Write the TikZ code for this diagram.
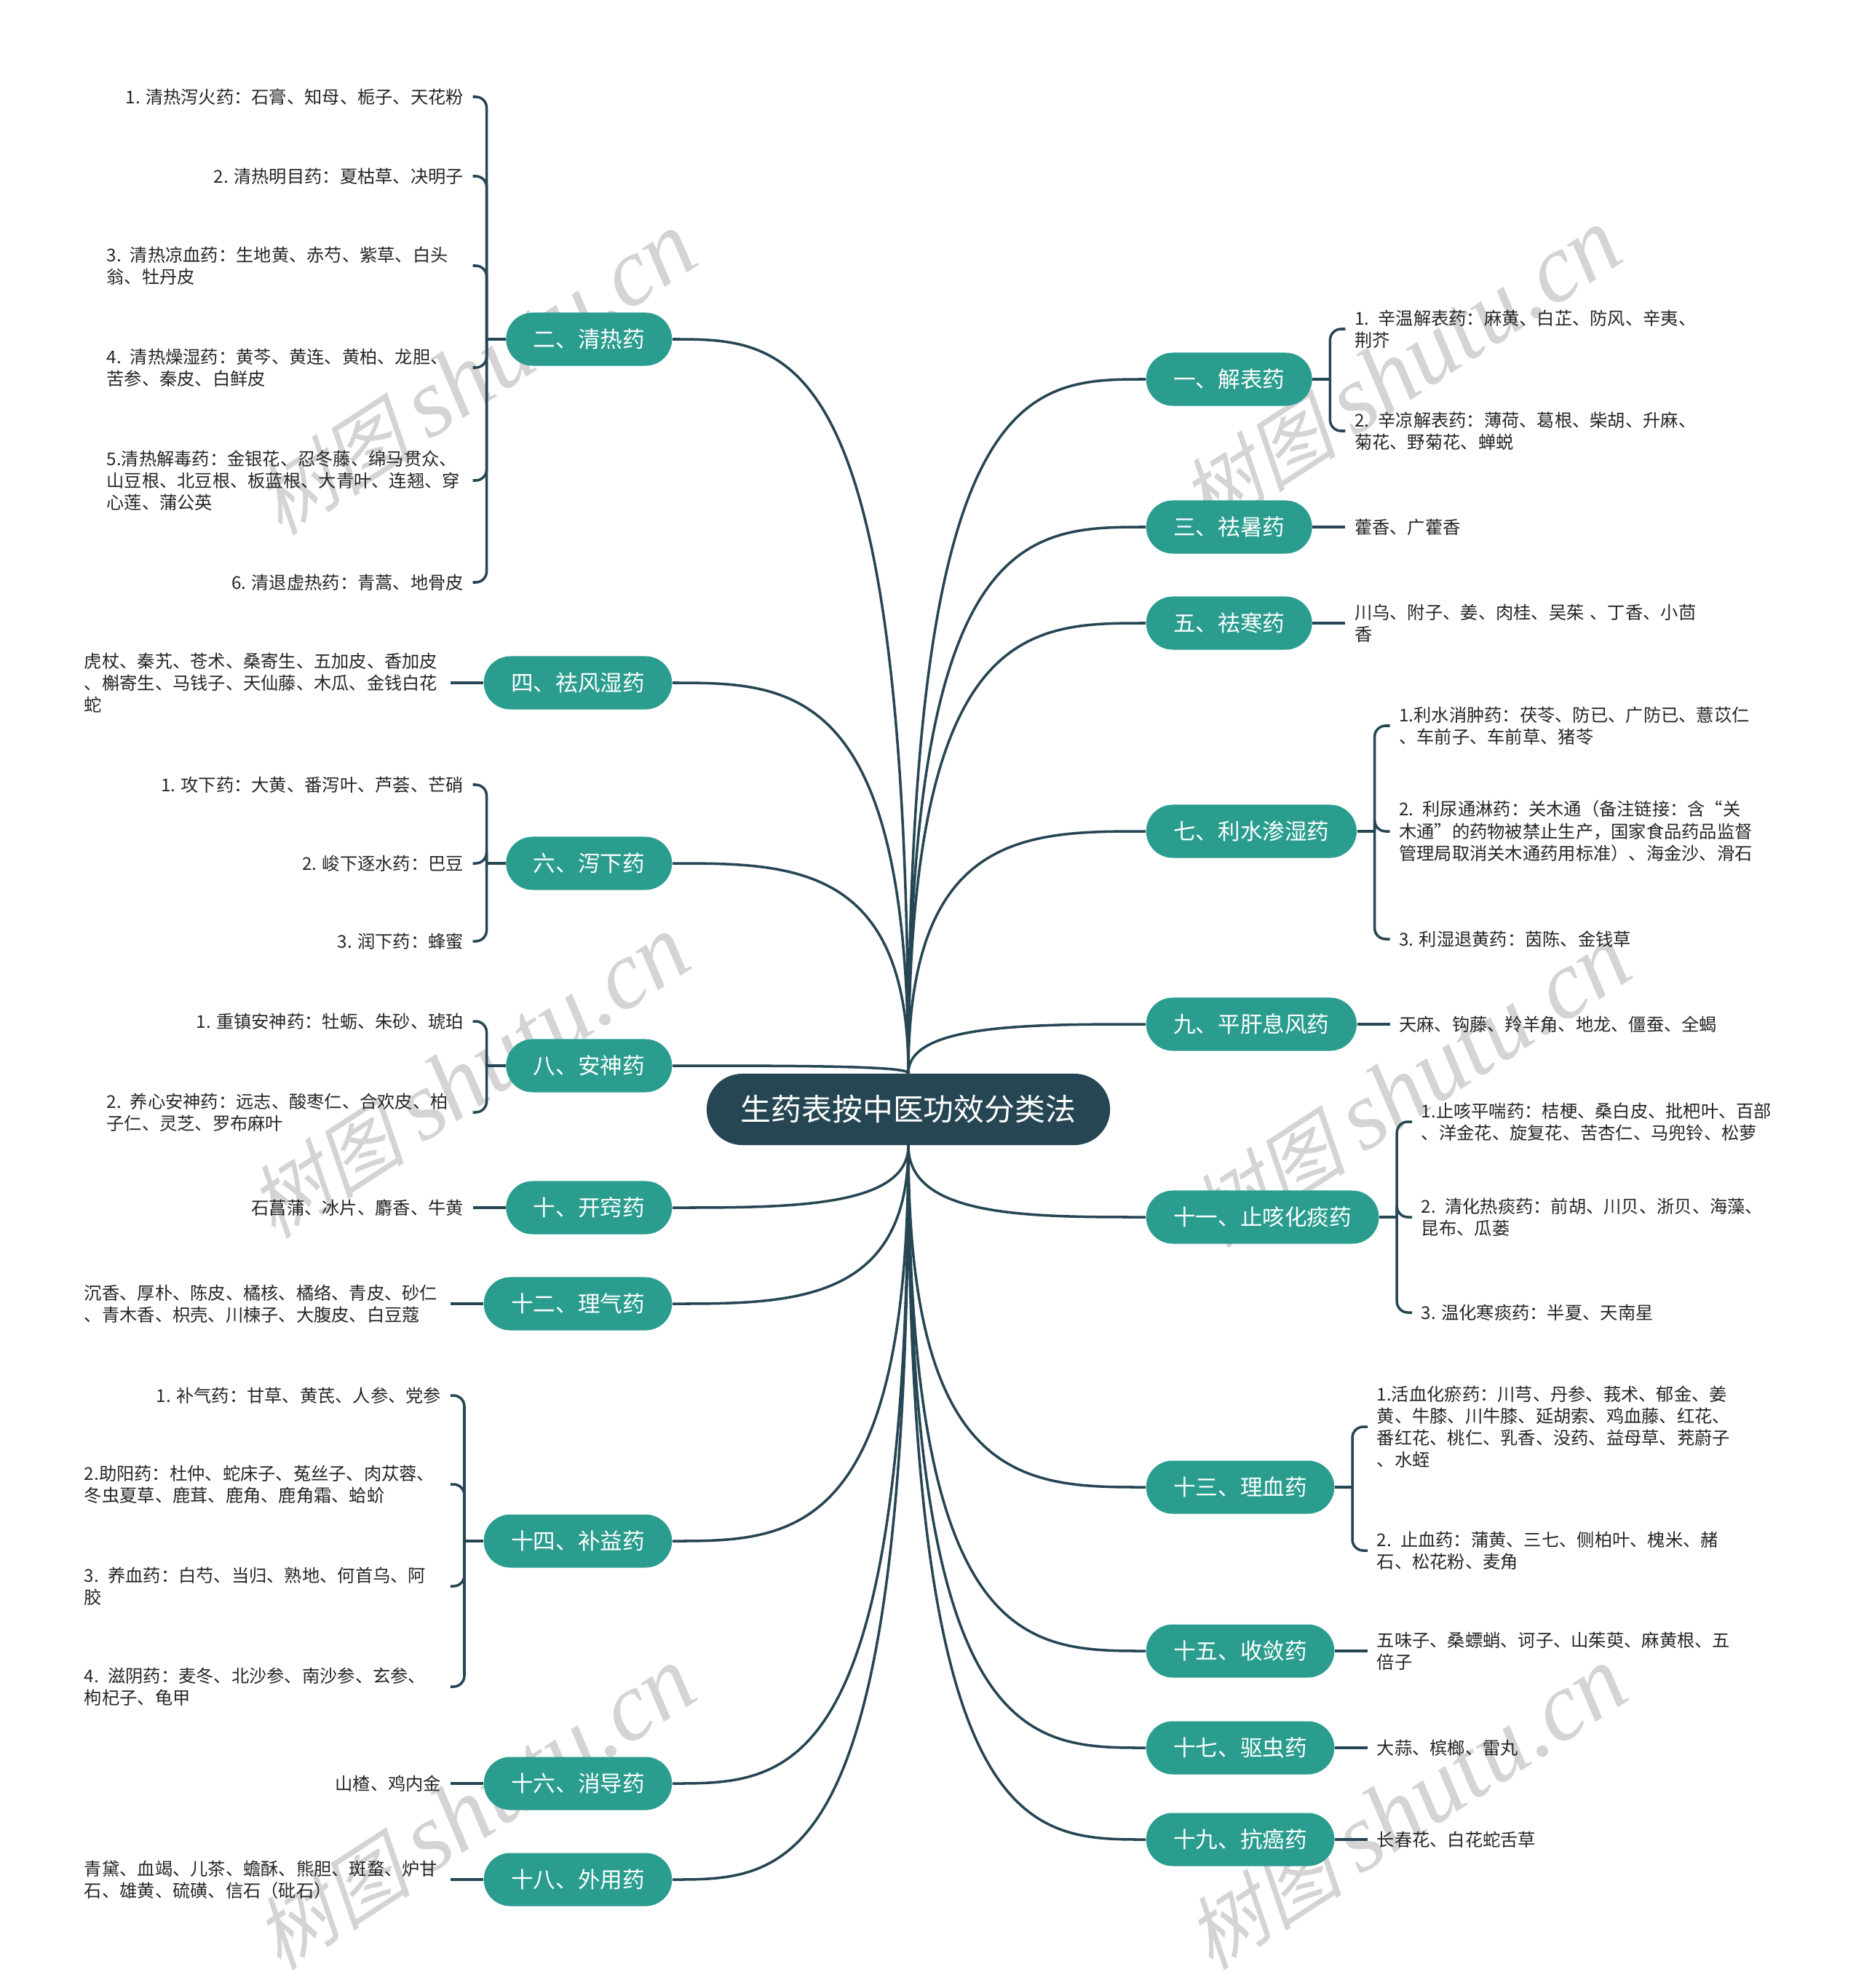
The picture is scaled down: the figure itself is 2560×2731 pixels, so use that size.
\documentclass[tikz,border=0pt]{standalone}
\usepackage{fontspec}
\setmainfont{Noto Sans CJK SC}
\newfontfamily\wmcjk[FakeSlant=0.25]{Noto Sans CJK SC}
\newfontfamily\wmlatin{Liberation Serif}
\usetikzlibrary{calc, positioning}

\begin{document}
\begin{tikzpicture}[x=0.01cm, y=-0.01cm,
    root/.style={fill=rootColour, text=white, rounded corners=0.49cm, minimum height=0.98cm, inner xsep=0.47cm, inner ysep=0pt, font=\fontsize{11.9pt}{14pt}\selectfont},
    branch/.style={fill=branchColour, text=white, rounded corners=0.365cm, minimum height=0.73cm, inner xsep=0.375cm, inner ysep=0pt, font=\fontsize{8.7pt}{10pt}\selectfont},
    leaf/.style={inner xsep=0.12cm, inner ysep=0.05cm, text=black!85, font=\fontsize{6.9pt}{8.6pt}\selectfont},
    leafw/.style={leaf, text width=4.9cm, align=left},
    link/.style={draw=linkColour, line width=1pt},
    wmark/.style={rotate=33, text=black!17, inner sep=0pt}]
    % Define colours
    \definecolor{rootColour}{HTML}{264653}
    \definecolor{branchColour}{HTML}{2A9D8F}
    \definecolor{linkColour}{HTML}{264653}

    % Watermark text
    \def\wmtext{{\wmcjk\fontsize{31pt}{31pt}\selectfont 树图}\hspace{7pt}{\wmlatin\itshape\fontsize{38pt}{38pt}\selectfont shutu.cn}}

    % Page size
    \useasboundingbox (0,0) rectangle (2560,2731);
    \fill[white] (0,0) rectangle (2560,2731);

    % Watermarks
    \node[wmark] (wm1) at (653,514) {\wmtext};
    \node[wmark] (wm2) at (1924,509) {\wmtext};
    \node[wmark] (wm3) at (644,1480) {\wmtext};
    \node[wmark] (wm4) at (1937,1493) {\wmtext};
    \node[wmark] (wm5) at (652,2485) {\wmtext};
    \node[wmark] (wm6) at (1932,2485) {\wmtext};

    % Root
    \node[root] (root) at (1248,1524) {生药表按中医功效分类法};

    % Branches on the left
    \node[branch, anchor=east] (br2) at (924,466) {二、清热药};
    \node[branch, anchor=east] (br4) at (924,938) {四、祛风湿药};
    \node[branch, anchor=east] (br6) at (924,1186) {六、泻下药};
    \node[branch, anchor=east] (br8) at (924,1464) {八、安神药};
    \node[branch, anchor=east] (br10) at (924,1659) {十、开窍药};
    \node[branch, anchor=east] (br12) at (924,1791) {十二、理气药};
    \node[branch, anchor=east] (br14) at (924,2117) {十四、补益药};
    \node[branch, anchor=east] (br16) at (924,2450) {十六、消导药};
    \node[branch, anchor=east] (br18) at (924,2582) {十八、外用药};

    % Branches on the right
    \node[branch, anchor=west] (br1) at (1574,521) {一、解表药};
    \node[branch, anchor=west] (br3) at (1574,724) {三、祛暑药};
    \node[branch, anchor=west] (br5) at (1574,856) {五、祛寒药};
    \node[branch, anchor=west] (br7) at (1574,1142) {七、利水渗湿药};
    \node[branch, anchor=west] (br9) at (1574,1407) {九、平肝息风药};
    \node[branch, anchor=west] (br11) at (1574,1672) {十一、止咳化痰药};
    \node[branch, anchor=west] (br13) at (1574,2043) {十三、理血药};
    \node[branch, anchor=west] (br15) at (1574,2268) {十五、收敛药};
    \node[branch, anchor=west] (br17) at (1574,2401) {十七、驱虫药};
    \node[branch, anchor=west] (br19) at (1574,2527) {十九、抗癌药};

    % Root to branches
    \foreach \b in {br2,br4,br6,br8}
        \draw[link] (root.north) .. controls (root.north |- \b.east) and ($(root.north |- \b.east)!0.5!(\b.east)$) .. (\b.east);
    \foreach \b in {br10,br12,br14,br16,br18}
        \draw[link] (root.south) .. controls (root.south |- \b.east) and ($(root.south |- \b.east)!0.5!(\b.east)$) .. (\b.east);
    \foreach \b in {br1,br3,br5,br7,br9}
        \draw[link] (root.north) .. controls (root.north |- \b.west) and ($(root.north |- \b.west)!0.5!(\b.west)$) .. (\b.west);
    \foreach \b in {br11,br13,br15,br17,br19}
        \draw[link] (root.south) .. controls (root.south |- \b.west) and ($(root.south |- \b.west)!0.5!(\b.west)$) .. (\b.west);

    % Leaves of 二
    \node[leaf, anchor=east] (l2a) at ($(br2.west |- 0,133)+(-45,0)$) {1. 清热泻火药：石膏、知母、栀子、天花粉};
    \node[leaf, anchor=east] (l2b) at ($(br2.west |- 0,242)+(-45,0)$) {2. 清热明目药：夏枯草、决明子};
    \node[leafw, anchor=east] (l2c) at ($(br2.west |- 0,365)+(-45,0)$) {3. 清热凉血药：生地黄、赤芍、紫草、白头\\翁、牡丹皮};
    \node[leafw, anchor=east] (l2d) at ($(br2.west |- 0,505)+(-45,0)$) {4. 清热燥湿药：黄芩、黄连、黄柏、龙胆、\\苦参、秦皮、白鲜皮};
    \node[leafw, anchor=east] (l2e) at ($(br2.west |- 0,660)+(-45,0)$) {5.清热解毒药：金银花、忍冬藤、绵马贯众、\\山豆根、北豆根、板蓝根、大青叶、连翘、穿\\心莲、蒲公英};
    \node[leaf, anchor=east] (l2f) at ($(br2.west |- 0,800)+(-45,0)$) {6. 清退虚热药：青蒿、地骨皮};
    \draw[link] (br2.west) -- ++(-26,0) coordinate (j2);
    \foreach \kid in {l2a,l2b,l2c,l2d,l2e,l2f}
        \draw[link, rounded corners=0.15cm] (j2) |- (\kid.east);

    % Leaf of 四
    \node[leafw, left=0.45cm of br4] (l4) {虎杖、秦艽、苍术、桑寄生、五加皮、香加皮\\、槲寄生、马钱子、天仙藤、木瓜、金钱白花\\蛇};
    \draw[link] (br4.west) -- (l4.east);

    % Leaves of 六
    \node[leaf, anchor=east] (l6a) at ($(br6.west |- 0,1078)+(-45,0)$) {1. 攻下药：大黄、番泻叶、芦荟、芒硝};
    \node[leaf, anchor=east] (l6b) at ($(br6.west)+(-45,0)$) {2. 峻下逐水药：巴豆};
    \node[leaf, anchor=east] (l6c) at ($(br6.west |- 0,1293)+(-45,0)$) {3. 润下药：蜂蜜};
    \draw[link] (br6.west) -- ++(-26,0) coordinate (j6);
    \foreach \kid in {l6a,l6b,l6c}
        \draw[link, rounded corners=0.15cm] (j6) |- (\kid.east);

    % Leaves of 八
    \node[leaf, anchor=east] (l8a) at ($(br8.west |- 0,1403)+(-45,0)$) {1. 重镇安神药：牡蛎、朱砂、琥珀};
    \node[leafw, anchor=east] (l8b) at ($(br8.west |- 0,1528)+(-45,0)$) {2. 养心安神药：远志、酸枣仁、合欢皮、柏\\子仁、灵芝、罗布麻叶};
    \draw[link] (br8.west) -- ++(-26,0) coordinate (j8);
    \foreach \kid in {l8a,l8b}
        \draw[link, rounded corners=0.15cm] (j8) |- (\kid.east);

    % Leaves of 十, 十二
    \node[leaf, left=0.45cm of br10] (l10) {石菖蒲、冰片、麝香、牛黄};
    \draw[link] (br10.west) -- (l10.east);
    \node[leafw, left=0.45cm of br12] (l12) {沉香、厚朴、陈皮、橘核、橘络、青皮、砂仁\\、青木香、枳壳、川楝子、大腹皮、白豆蔻};
    \draw[link] (br12.west) -- (l12.east);

    % Leaves of 十四
    \node[leaf, anchor=east] (l14a) at ($(br14.west |- 0,1917)+(-45,0)$) {1. 补气药：甘草、黄芪、人参、党参};
    \node[leafw, anchor=east] (l14b) at ($(br14.west |- 0,2039)+(-45,0)$) {2.助阳药：杜仲、蛇床子、菟丝子、肉苁蓉、\\冬虫夏草、鹿茸、鹿角、鹿角霜、蛤蚧};
    \node[leafw, anchor=east] (l14c) at ($(br14.west |- 0,2179)+(-45,0)$) {3. 养血药：白芍、当归、熟地、何首乌、阿\\胶};
    \node[leafw, anchor=east] (l14d) at ($(br14.west |- 0,2317)+(-45,0)$) {4. 滋阴药：麦冬、北沙参、南沙参、玄参、\\枸杞子、龟甲};
    \draw[link] (br14.west) -- ++(-26,0) coordinate (j14);
    \foreach \kid in {l14a,l14b,l14c,l14d}
        \draw[link, rounded corners=0.15cm] (j14) |- (\kid.east);

    % Leaves of 十六, 十八
    \node[leaf, left=0.45cm of br16] (l16) {山楂、鸡内金};
    \draw[link] (br16.west) -- (l16.east);
    \node[leafw, left=0.45cm of br18] (l18) {青黛、血竭、儿茶、蟾酥、熊胆、斑蝥、炉甘\\石、雄黄、硫磺、信石（砒石）};
    \draw[link] (br18.west) -- (l18.east);

    % Leaves of 一
    \node[leafw, anchor=west] (l1a) at ($(br1.east |- 0,452)+(45,0)$) {1. 辛温解表药：麻黄、白芷、防风、辛夷、\\荆芥};
    \node[leafw, anchor=west] (l1b) at ($(br1.east |- 0,592)+(45,0)$) {2. 辛凉解表药：薄荷、葛根、柴胡、升麻、\\菊花、野菊花、蝉蜕};
    \draw[link] (br1.east) -- ++(24,0) coordinate (j1);
    \foreach \kid in {l1a,l1b}
        \draw[link, rounded corners=0.15cm] (j1) |- (\kid.west);

    % Leaves of 三, 五
    \node[leaf, right=0.45cm of br3] (l3) {藿香、广藿香};
    \draw[link] (br3.east) -- (l3.west);
    \node[leafw, right=0.45cm of br5] (l5) {川乌、附子、姜、肉桂、吴茱 、丁香、小茴\\香};
    \draw[link] (br5.east) -- (l5.west);

    % Leaves of 七
    \node[leafw, anchor=west] (l7a) at ($(br7.east |- 0,997)+(45,0)$) {1.利水消肿药：茯苓、防已、广防已、薏苡仁\\、车前子、车前草、猪苓};
    \node[leafw, anchor=west] (l7b) at ($(br7.east)+(45,0)$) {2. 利尿通淋药：关木通（备注链接：含“关\\木通”的药物被禁止生产，国家食品药品监督\\管理局取消关木通药用标准）、海金沙、滑石};
    \node[leaf, anchor=west] (l7c) at ($(br7.east |- 0,1290)+(45,0)$) {3. 利湿退黄药：茵陈、金钱草};
    \draw[link] (br7.east) -- ++(24,0) coordinate (j7);
    \foreach \kid in {l7a,l7b,l7c}
        \draw[link, rounded corners=0.15cm] (j7) |- (\kid.west);

    % Leaf of 九
    \node[leaf, right=0.45cm of br9] (l9) {天麻、钩藤、羚羊角、地龙、僵蚕、全蝎};
    \draw[link] (br9.east) -- (l9.west);

    % Leaves of 十一
    \node[leafw, anchor=west] (l11a) at ($(br11.east |- 0,1541)+(45,0)$) {1.止咳平喘药：桔梗、桑白皮、批杷叶、百部\\、洋金花、旋复花、苦杏仁、马兜铃、松萝};
    \node[leafw, anchor=west] (l11b) at ($(br11.east)+(45,0)$) {2. 清化热痰药：前胡、川贝、浙贝、海藻、\\昆布、瓜蒌};
    \node[leaf, anchor=west] (l11c) at ($(br11.east |- 0,1803)+(45,0)$) {3. 温化寒痰药：半夏、天南星};
    \draw[link] (br11.east) -- ++(24,0) coordinate (j11);
    \foreach \kid in {l11a,l11b,l11c}
        \draw[link, rounded corners=0.15cm] (j11) |- (\kid.west);

    % Leaves of 十三
    \node[leafw, anchor=west] (l13a) at ($(br13.east |- 0,1960)+(45,0)$) {1.活血化瘀药：川芎、丹参、莪术、郁金、姜\\黄、牛膝、川牛膝、延胡索、鸡血藤、红花、\\番红花、桃仁、乳香、没药、益母草、茺蔚子\\、水蛭};
    \node[leafw, anchor=west] (l13b) at ($(br13.east |- 0,2130)+(45,0)$) {2. 止血药：蒲黄、三七、侧柏叶、槐米、赭\\石、松花粉、麦角};
    \draw[link] (br13.east) -- ++(24,0) coordinate (j13);
    \foreach \kid in {l13a,l13b}
        \draw[link, rounded corners=0.15cm] (j13) |- (\kid.west);

    % Leaves of 十五, 十七, 十九
    \node[leafw, right=0.45cm of br15] (l15) {五味子、桑螵蛸、诃子、山茱萸、麻黄根、五\\倍子};
    \draw[link] (br15.east) -- (l15.west);
    \node[leaf, right=0.45cm of br17] (l17) {大蒜、槟榔、雷丸};
    \draw[link] (br17.east) -- (l17.west);
    \node[leaf, right=0.45cm of br19] (l19) {长春花、白花蛇舌草};
    \draw[link] (br19.east) -- (l19.west);

\end{tikzpicture}
\end{document}
